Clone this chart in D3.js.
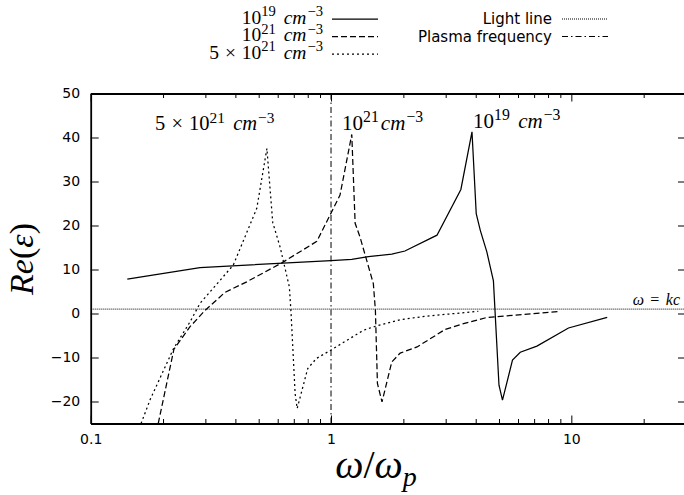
<!DOCTYPE html>
<html><head><meta charset="utf-8">
<script src="https://cdn.jsdelivr.net/npm/d3@7"></script>
<style>body{margin:0;background:#fff;} svg{display:block;}</style>
</head><body><svg id="c" width="684" height="495"></svg>
<script>
// ---- data ----
const x19 = [0.142, 0.285, 1.0, 1.22, 1.43, 1.79, 2.03, 2.76, 3.47, 3.86, 4.02, 4.18, 4.45, 4.74, 5.00, 5.17, 5.69, 6.13, 7.19, 9.73, 14.1];
const y19 = [7.8, 10.45, 12.0, 12.3, 12.9, 13.5, 14.2, 17.8, 28.2, 41.3, 22.7, 18.9, 14.0, 7.4, -16.3, -19.7, -10.6, -8.8, -7.4, -3.3, -0.9];

const x21 = [0.191, 0.222, 0.259, 0.299, 0.362, 0.446, 0.624, 0.873, 1.09, 1.22, 1.26, 1.32, 1.50, 1.53, 1.56, 1.63, 1.79, 1.94, 2.28, 2.99, 3.56, 4.45, 9.0];
const y21 = [-25, -8.1, -3.0, 0.7, 4.8, 7.2, 11.5, 16.4, 26.9, 40.7, 20.5, 17.4, 6.8, 0.75, -15.9, -20.1, -11.0, -9.0, -7.6, -3.6, -2.3, -0.9, 0.5];

const x5e21 = [0.162, 0.177, 0.221, 0.259, 0.285, 0.392, 0.491, 0.541, 0.572, 0.614, 0.671, 0.682, 0.709, 0.723, 0.80, 0.87, 1.0, 1.365, 1.53, 1.94, 2.5, 4.1];
const y5e21 = [-25, -19.5, -8.0, -1.9, 2.3, 11.0, 23.9, 37.5, 20.7, 15.1, 6.0, 0.0, -18.2, -21.6, -12.5, -10.2, -8.3, -3.8, -2.9, -1.4, -0.6, 0.5];

const lightLineValue = 1;      // Re(eps) = 1  (omega = kc)
const plasmaFrequency = 1;     // omega / omega_p = 1

const xDomain = [0.1, 30];
const yDomain = [-25, 50];
const yTicks = [-20, -10, 0, 10, 20, 30, 40, 50];
const xMajorTicks = [0.1, 1, 10];
const xTickLabels = ["0.1", "1", "10"];
const xMinorTicks = [0.2, 0.3, 0.4, 0.5, 0.6, 0.7, 0.8, 0.9, 2, 3, 4, 5, 6, 7, 8, 9, 20, 30];

// ---- layout ----
const svg = d3.select("#c");
const L = 90.7, R = 686, T = 93.5, B = 423.5;
const x = d3.scaleLog().domain(xDomain).range([L, R]);
const y = d3.scaleLinear().domain(yDomain).range([B, T]);

svg.append("defs").append("clipPath").attr("id", "clip")
  .append("rect").attr("x", L).attr("y", T).attr("width", R - L).attr("height", B - T);

const SANS = "'DejaVu Sans', sans-serif";
const SERIF = "'Liberation Serif', 'DejaVu Serif', serif";

function styleAxis(g) {
  g.attr("font-family", SANS).attr("font-size", 14);
  g.select(".domain").attr("stroke-width", 1.8).attr("stroke", "#000");
  g.selectAll(".tick line").attr("stroke", "#000").attr("stroke-width", 1);
  g.selectAll(".tick text").attr("fill", "#000");
}

// left axis
svg.append("g").attr("transform", `translate(${L},0)`)
  .call(d3.axisLeft(y).tickValues(yTicks).tickSizeInner(-8).tickSizeOuter(0).tickPadding(10.5).tickFormat(d3.format("d")))
  .call(styleAxis);
// right axis (mirror)
svg.append("g").attr("transform", `translate(${R},0)`)
  .call(d3.axisRight(y).tickValues(yTicks).tickSizeInner(-8).tickSizeOuter(0).tickFormat(""))
  .call(styleAxis);
// bottom axis
svg.append("g").attr("transform", `translate(0,${B})`)
  .call(d3.axisBottom(x).tickValues(xMajorTicks).tickSizeInner(-8).tickSizeOuter(0).tickPadding(11)
        .tickFormat((d, i) => xTickLabels[i]))
  .call(styleAxis);
svg.append("g").attr("transform", `translate(0,${B})`)
  .call(d3.axisBottom(x).tickValues(xMinorTicks).tickSizeInner(-4.5).tickSizeOuter(0).tickFormat(""))
  .call(styleAxis);
// top axis
svg.append("g").attr("transform", `translate(0,${T})`)
  .call(d3.axisTop(x).tickValues(xMajorTicks).tickSizeInner(-8).tickSizeOuter(0).tickFormat(""))
  .call(styleAxis);
svg.append("g").attr("transform", `translate(0,${T})`)
  .call(d3.axisTop(x).tickValues(xMinorTicks).tickSizeInner(-4.5).tickSizeOuter(0).tickFormat(""))
  .call(styleAxis);

// ---- reference lines ----
const plot = svg.append("g").attr("clip-path", "url(#clip)");
plot.append("line")
  .attr("x1", x(xDomain[0])).attr("x2", x(xDomain[1]))
  .attr("y1", y(lightLineValue)).attr("y2", y(lightLineValue))
  .attr("stroke", "#000").attr("stroke-width", 1).attr("stroke-dasharray", "1,1");
plot.append("line")
  .attr("x1", x(plasmaFrequency)).attr("x2", x(plasmaFrequency))
  .attr("y1", y(yDomain[0])).attr("y2", y(yDomain[1]))
  .attr("stroke", "#000").attr("stroke-width", 1).attr("stroke-dasharray", "6,3,1.5,3");

// ---- curves ----
const line = d3.line().x(d => x(d[0])).y(d => y(d[1]));
const series = [
  { xs: x19, ys: y19, dash: null },
  { xs: x21, ys: y21, dash: "6,3" },
  { xs: x5e21, ys: y5e21, dash: "2,3" }
];
series.forEach(s => {
  plot.append("path")
    .datum(s.xs.map((v, i) => [v, s.ys[i]]))
    .attr("d", line)
    .attr("fill", "none").attr("stroke", "#000").attr("stroke-width", 1.25)
    .attr("stroke-dasharray", s.dash);
});

// ---- math-like text helper ----
function mathText(sel, parts, size, xPos, yPos, anchor) {
  const t = sel.append("text").attr("x", xPos).attr("y", yPos)
    .attr("font-family", SERIF).attr("font-size", size).attr("fill", "#000")
    .attr("text-anchor", anchor || "start");
  let shift = 0;
  parts.forEach(p => {
    const ts = t.append("tspan").text(p.t);
    if (p.i) ts.attr("font-style", "italic");
    if (p.dx) ts.attr("dx", p.dx * size);
    let target = 0;
    if (p.sup) { ts.attr("font-size", size * 0.75); target = -size * 0.36; }
    if (p.sub) { ts.attr("font-size", size * 0.7); target = size * 0.2; }
    ts.attr("dy", target - shift);
    shift = target;
  });
  return t;
}

const lab19 = [{t: "10"}, {t: "19", sup: 1}, {t: "cm", i: 1, dx: 0.4}, {t: "\u22123", sup: 1, dx: 0.05}];
const lab21 = [{t: "10"}, {t: "21", sup: 1}, {t: "cm", i: 1, dx: 0.4}, {t: "\u22123", sup: 1, dx: 0.05}];
const lab21b = [{t: "10"}, {t: "21", sup: 1}, {t: "cm", i: 1, dx: 0.1}, {t: "\u22123", sup: 1, dx: 0.05}];
const lab5e21 = [{t: "5"}, {t: "\u00d7", dx: 0.3}, {t: "10", dx: 0.3}, {t: "21", sup: 1}, {t: "cm", i: 1, dx: 0.4}, {t: "\u22123", sup: 1, dx: 0.05}];

// ---- legend ----
const rows = [19, 36.5, 54];
const legLeft = [lab19, lab21, lab5e21];
const legDash = [null, "6,3", "2,3"];
legLeft.forEach((parts, i) => {
  mathText(svg, parts, 19.5, 323, rows[i] + 4.5, "end");
  svg.append("line").attr("x1", 332).attr("x2", 378).attr("y1", rows[i]).attr("y2", rows[i])
    .attr("stroke", "#000").attr("stroke-width", 1.25).attr("stroke-dasharray", legDash[i]);
});
const legRight = ["Light line", "Plasma frequency"];
const legRightDash = ["1,1", "6,3,1.5,3"];
legRight.forEach((txt, i) => {
  svg.append("text").attr("x", 552).attr("y", rows[i] + 5).attr("text-anchor", "end")
    .attr("font-family", SANS).attr("font-size", 15).text(txt);
  svg.append("line").attr("x1", 562).attr("x2", 608).attr("y1", rows[i]).attr("y2", rows[i])
    .attr("stroke", "#000").attr("stroke-width", 1).attr("stroke-dasharray", legRightDash[i]);
});

// ---- inline labels ----
mathText(svg, lab5e21, 20.5, 155, 130, "start");
mathText(svg, lab21b, 21, 342, 130, "start");
mathText(svg, lab19, 21, 473, 128, "start");
mathText(svg, [{t: "\u03c9", i: 1}, {t: "=", dx: 0.4}, {t: "kc", i: 1, dx: 0.4}], 16, 680, 305, "end");

// ---- axis titles ----
mathText(svg, [{t: "\u03c9", i: 1}, {t: "/"}, {t: "\u03c9", i: 1}, {t: "p", i: 1, sub: 1}], 40, 376, 478, "middle");
const yl = svg.append("g").attr("transform", "translate(33,259) rotate(-90)");
mathText(yl, [{t: "R", i: 1}, {t: "e", i: 1}, {t: "("}, {t: "\u03b5", i: 1}, {t: ")"}], 34, 0, 0, "middle");
</script></body></html>
